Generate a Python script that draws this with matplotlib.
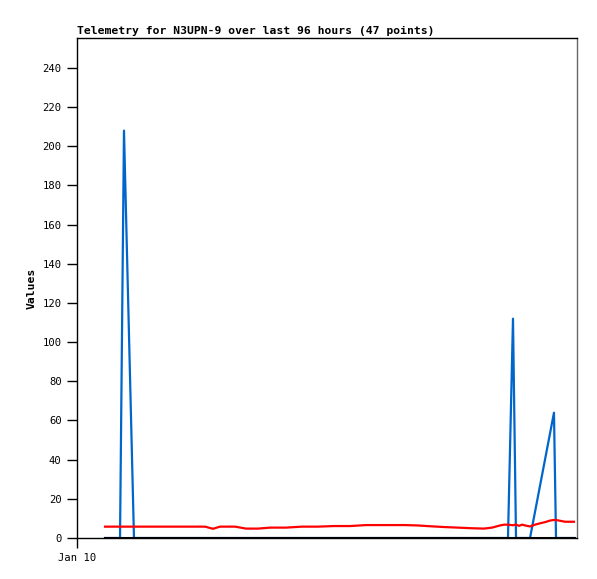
import matplotlib
matplotlib.use("Agg")
import matplotlib.pyplot as plt

# time offsets in hours from Jan 10 00:00
hours = [5.38, 7.30, 8.26, 9.02, 10.94, 13.06, 16.90, 20.74, 24.58, 26.11,
         27.46, 30.34, 32.45, 34.75, 37.06, 40.13, 43.20, 46.27, 49.34, 52.42,
         55.49, 59.33, 62.98, 65.47, 67.78, 70.46, 73.15, 75.65, 78.14, 79.68,
         81.22, 81.98, 82.75, 83.71, 84.29, 84.86, 85.44, 86.21, 86.98, 87.94,
         88.90, 89.86, 90.82, 91.58, 91.97, 93.70, 95.42]

red_vals = [5.8, 5.8, 5.8, 5.8, 5.8, 5.8, 5.8, 5.8, 5.8, 4.7,
            5.8, 5.8, 4.8, 4.8, 5.3, 5.3, 5.8, 5.8, 6.1, 6.1,
            6.6, 6.6, 6.6, 6.4, 6.0, 5.6, 5.3, 5.0, 4.8, 5.3,
            6.4, 6.8, 6.8, 6.5, 6.9, 6.2, 6.8, 6.3, 5.9, 6.8,
            7.5, 8.1, 8.9, 9.2, 9.2, 8.3, 8.3]

black_vals = [0] * 47

# blue series is reported at fewer timestamps
blue_hours = [5.38, 8.26, 9.02, 10.94, 82.75, 83.71, 84.29, 86.98, 91.58, 91.97, 95.42]
blue_vals = [0, 0, 208, 0, 0, 112, 0, 0, 64, 0, 0]

title = "Telemetry for N3UPN-9 over last 96 hours (47 points)"
y_ticks = list(range(0, 241, 20))
x_tick_labels = ["Jan 10"]
x_tick_pos = [0]

mono = "DejaVu Sans Mono"

fig = plt.figure(figsize=(5.97, 5.79), dpi=100)
ax = fig.add_axes([77/597, 1 - 538/579, 500/597, 500/579])

ax.plot(blue_hours, blue_vals, color="#0066cc", lw=1.6)
ax.plot(hours, red_vals, color="#ff0000", lw=1.6)
ax.plot(hours, black_vals, color="#000000", lw=2.2)

ax.set_xlim(0, 96)
ax.set_ylim(0, 255.3)
ax.set_yticks(y_ticks)
ax.set_yticklabels([str(v) for v in y_ticks], family=mono, fontsize=7.6)
ax.set_xticks(x_tick_pos)
ax.set_xticklabels(x_tick_labels, family=mono, fontsize=7.6)
ax.tick_params(axis="both", direction="out", length=7, width=1, color="black", pad=4)

for s in ["left", "bottom", "top"]:
    ax.spines[s].set_color("black")
    ax.spines[s].set_linewidth(1)
ax.spines["right"].set_color("#666666")
ax.spines["right"].set_linewidth(1)

ax.set_ylabel("Values", family=mono, fontsize=8.2, fontweight="bold", labelpad=4)
ax.set_title(title, family=mono, fontsize=8.2, fontweight="bold", loc="left", pad=3)

fig.savefig("out.png", dpi=100)
